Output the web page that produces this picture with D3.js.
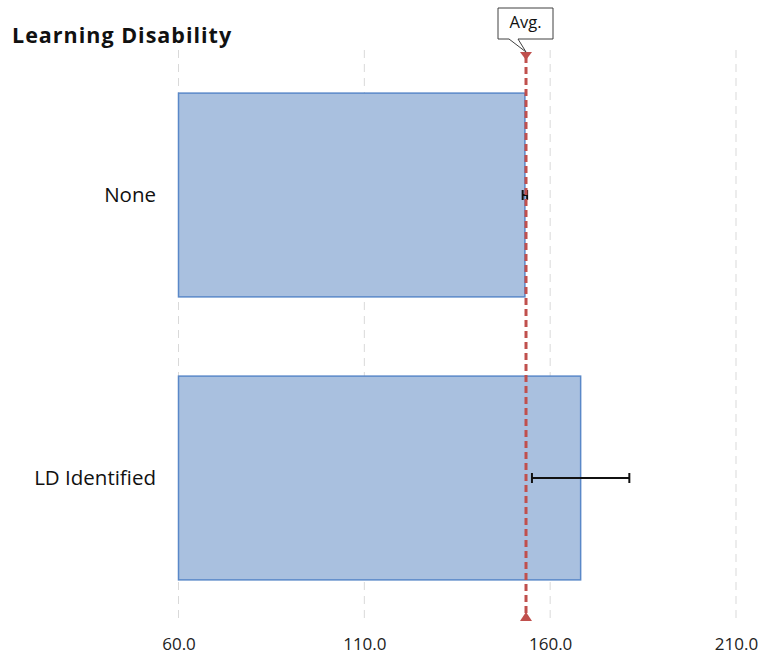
<!DOCTYPE html>
<html>
<head>
<meta charset="utf-8">
<script src="https://cdn.jsdelivr.net/npm/d3@7"></script>
<style>
  html, body { margin: 0; padding: 0; background: #fff; }
  svg { display: block; }
</style>
</head>
<body>
<svg id="chart" width="762" height="655"></svg>
<script>
// Learning disability groups: mean score with error margin, plus overall average
const categories = ["None", "LD Identified"];
const values = [153.2, 168.2];
const errors = [0.6, 13.1];
const average = 153.5;
const tickValues = [60, 110, 160, 210];
const title = "Learning Disability";

const svg = d3.select("#chart");
const fontFamily = "'Open Sans', 'Noto Sans', sans-serif";

const x = d3.scaleLinear().domain([60, 210]).range([178.5, 736]);
const y = d3.scaleBand().domain(categories).range([53.5, 619.5])
  .paddingInner(0.28).paddingOuter(0.14);

// title
svg.append("text")
  .attr("x", 12).attr("y", 43)
  .attr("font-family", fontFamily)
  .attr("font-weight", 700)
  .attr("font-size", 21.5)
  .attr("fill", "#111")
  .attr("letter-spacing", 1)
  .text(title);

// vertical gridlines
svg.append("g")
  .selectAll("line")
  .data(tickValues)
  .join("line")
  .attr("x1", d => x(d)).attr("x2", d => x(d))
  .attr("y1", 50).attr("y2", 622)
  .attr("stroke", "#d9d9d9")
  .attr("stroke-width", 1)
  .attr("stroke-dasharray", "8,6");

// bottom axis labels (no domain line or ticks)
const xAxis = d3.axisBottom(x).tickValues(tickValues)
  .tickFormat(d3.format(".1f")).tickSize(0).tickPadding(0);
const axisG = svg.append("g").attr("transform", "translate(0,650)").call(xAxis);
axisG.select(".domain").remove();
axisG.selectAll("text")
  .attr("font-family", fontFamily)
  .attr("font-size", 17)
  .attr("fill", "#222")
  .attr("dy", 0)
  .attr("y", 0);

// category labels
const yAxis = d3.axisLeft(y).tickSize(0).tickPadding(0);
const yG = svg.append("g").attr("transform", "translate(156,0)").call(yAxis);
yG.select(".domain").remove();
yG.selectAll("text")
  .attr("font-family", fontFamily)
  .attr("font-size", 20.5)
  .attr("fill", "#111");

// bars
svg.append("g")
  .selectAll("rect")
  .data(categories)
  .join("rect")
  .attr("x", x(60))
  .attr("y", d => y(d))
  .attr("width", (d, i) => x(values[i]) - x(60))
  .attr("height", y.bandwidth())
  .attr("fill", "#a9c0df")
  .attr("stroke", "#5a88c8")
  .attr("stroke-width", 1.5);

// error bars
const eb = svg.append("g").attr("stroke", "#111").attr("stroke-width", 2);
categories.forEach((c, i) => {
  const cy = y(c) + y.bandwidth() / 2;
  const lo = x(values[i] - errors[i]), hi = x(values[i] + errors[i]);
  eb.append("line").attr("x1", lo).attr("x2", hi).attr("y1", cy).attr("y2", cy);
  eb.append("line").attr("x1", lo).attr("x2", lo).attr("y1", cy - 5).attr("y2", cy + 5);
  eb.append("line").attr("x1", hi).attr("x2", hi).attr("y1", cy - 5).attr("y2", cy + 5);
});

// average line with end markers
const ax = x(average);
svg.append("line")
  .attr("x1", ax).attr("x2", ax)
  .attr("y1", 56).attr("y2", 616)
  .attr("stroke", "#c0504d")
  .attr("stroke-width", 3)
  .attr("stroke-dasharray", "7,4");
svg.append("path")
  .attr("d", `M${ax - 6},52 L${ax + 6},52 L${ax},60 Z`)
  .attr("fill", "#c0504d");
svg.append("path")
  .attr("d", `M${ax - 6},621 L${ax + 6},621 L${ax},612 Z`)
  .attr("fill", "#c0504d");

// "Avg." callout
const bx0 = ax - 28, bx1 = ax + 27, by0 = 8, by1 = 39;
svg.append("path")
  .attr("d", `M${bx0},${by0} L${bx1},${by0} L${bx1},${by1} L${ax - 8},${by1} L${ax},${52} L${ax - 17},${by1} L${bx0},${by1} Z`)
  .attr("fill", "#fff")
  .attr("stroke", "#404040")
  .attr("stroke-width", 1);
svg.append("text")
  .attr("x", (bx0 + bx1) / 2).attr("y", 28)
  .attr("text-anchor", "middle")
  .attr("font-family", fontFamily)
  .attr("font-size", 16.5)
  .attr("fill", "#111")
  .text("Avg.");
</script>
</body>
</html>
